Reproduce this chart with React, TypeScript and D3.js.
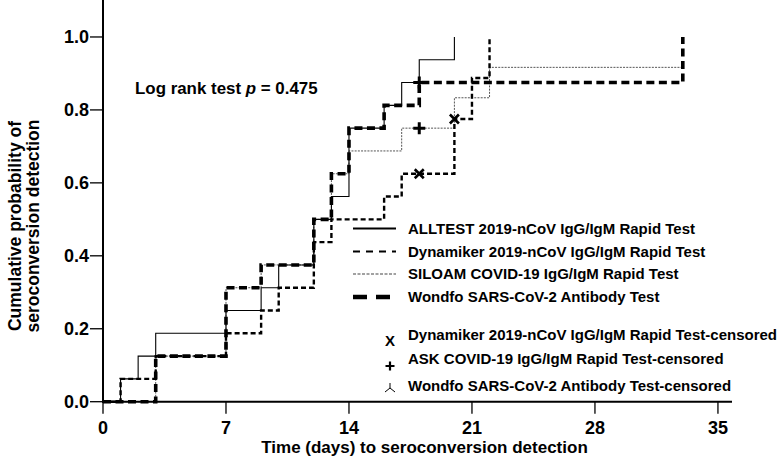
import React from "react";
import * as d3 from "d3";

type Pt = [number, number];

const allTest: Pt[] = [[0, 0], [1, 0.0625], [2, 0.125], [3, 0.1875], [7, 0.25], [9, 0.3125], [10, 0.375], [12, 0.5], [13, 0.5625], [14, 0.75], [16, 0.8125], [17, 0.875], [18, 0.9375], [20, 1.0]];
const dynamiker: Pt[] = [[0, 0], [1, 0.0625], [3, 0.125], [7, 0.1875], [9, 0.25], [10, 0.3125], [12, 0.4375], [13, 0.5], [16, 0.5625], [17, 0.625], [20, 0.775], [21, 0.8875], [22, 1.0]];
const siloam: Pt[] = [[0, 0], [3, 0.125], [7, 0.3125], [9, 0.375], [12, 0.5], [13, 0.625], [14, 0.6875], [17, 0.75], [20, 0.8333], [22, 0.9167], [33, 0.9167]];
const wondfo: Pt[] = [[0, 0], [3, 0.125], [7, 0.3125], [9, 0.375], [12, 0.5], [13, 0.625], [14, 0.75], [16, 0.8125], [18, 0.875], [33, 1.0]];

const censorX: Pt[] = [[18, 0.625], [20, 0.775]];
const censorPlus: Pt[] = [[18, 0.75], [18, 0.875]];

const xTicks = [0, 7, 14, 21, 28, 35];
const yTicks = [0, 0.2, 0.4, 0.6, 0.8, 1.0];

const legendLines = [
  "ALLTEST 2019-nCoV IgG/IgM Rapid Test",
  "Dynamiker 2019-nCoV IgG/IgM Rapid Test",
  "SILOAM COVID-19 IgG/IgM Rapid Test",
  "Wondfo SARS-CoV-2 Antibody Test",
];
const legendCensored = [
  "Dynamiker 2019-nCoV IgG/IgM Rapid Test-censored",
  "ASK COVID-19 IgG/IgM Rapid Test-censored",
  "Wondfo SARS-CoV-2 Antibody Test-censored",
];

const FONT = "'Liberation Sans', Arial, sans-serif";

export default function App() {
  const W = 777, H = 458;
  const x = d3.scaleLinear().domain([0, 35.8]).range([103, 732]);
  const y = d3.scaleLinear().domain([0, 1.1]).range([401.7, 0.5]);
  const line = d3.line<Pt>().x(d => x(d[0])).y(d => y(d[1])).curve(d3.curveStepAfter);

  const styles = [
    { data: allTest, w: 1.1, dash: undefined as string | undefined, color: "#000" },
    { data: dynamiker, w: 2.4, dash: "5,3", color: "#000" },
    { data: siloam, w: 1, dash: "2,1.2", color: "#555" },
    { data: wondfo, w: 3.6, dash: "8,4.5", color: "#000" },
  ];
  const legendStyles = [
    { w: 2, dash: undefined as string | undefined, color: "#000" },
    { w: 2.2, dash: "7,6", color: "#000" },
    { w: 1.2, dash: "3,1.5", color: "#444" },
    { w: 4.5, dash: "14,9", color: "#000" },
  ];
  const legendY = [228.5, 251.5, 274, 297];
  const censY = [335, 359, 386];

  return (
    <svg width={W} height={H} style={{ position: "absolute", left: 0, top: 0, background: "#fff" }} fontFamily={FONT}>
      <rect width={W} height={H} fill="#fff" />
      {/* curves */}
      {[styles[2], styles[0], styles[1], styles[3]].map((s, i) => (
        <path key={i} d={line(s.data) || ""} fill="none" stroke={s.color} strokeWidth={s.w} strokeDasharray={s.dash} />
      ))}
      {/* censor markers */}
      {censorX.map((p, i) => (
        <path key={"x" + i} d={`M${x(p[0]) - 4.5},${y(p[1]) - 4.5}L${x(p[0]) + 4.5},${y(p[1]) + 4.5}M${x(p[0]) - 4.5},${y(p[1]) + 4.5}L${x(p[0]) + 4.5},${y(p[1]) - 4.5}`} stroke="#000" strokeWidth={2.6} />
      ))}
      {censorPlus.map((p, i) => (
        <path key={"p" + i} d={`M${x(p[0]) - 6},${y(p[1])}L${x(p[0]) + 6},${y(p[1])}M${x(p[0])},${y(p[1]) - 6}L${x(p[0])},${y(p[1]) + 6}`} stroke="#000" strokeWidth={3} />
      ))}
      {/* axes */}
      <line x1={x(0)} x2={x(0)} y1={0} y2={y(0) + 1} stroke="#000" strokeWidth={2} />
      <line x1={x(0) - 1} x2={x.range()[1]} y1={y(0)} y2={y(0)} stroke="#000" strokeWidth={2} />
      {yTicks.map(t => (
        <g key={"y" + t}>
          <line x1={x(0) - 13} x2={x(0)} y1={y(t)} y2={y(t)} stroke="#000" strokeWidth={1.3} />
          <text x={x(0) - 14} y={y(t)} dy="0.35em" textAnchor="end" fontSize={18} fontWeight="bold">{t.toFixed(1)}</text>
        </g>
      ))}
      {xTicks.map(t => (
        <g key={"x" + t}>
          <line x1={x(t)} x2={x(t)} y1={y(0)} y2={y(0) + 12} stroke="#000" strokeWidth={1.3} />
          <text x={x(t)} y={434} textAnchor="middle" fontSize={18} fontWeight="bold">{t}</text>
        </g>
      ))}
      <text x={424.5} y={453} textAnchor="middle" fontSize={17} fontWeight="bold">Time (days) to seroconversion detection</text>
      <g transform="translate(15,226) rotate(-90)">
        <text x={0} y={0} dy="0.35em" textAnchor="middle" fontSize={17.5} fontWeight="bold">Cumulative probability of</text>
      </g>
      <g transform="translate(33,226) rotate(-90)">
        <text x={0} y={0} dy="0.35em" textAnchor="middle" fontSize={17.5} fontWeight="bold">seroconversion detection</text>
      </g>
      <text x={135} y={88} dy="0.35em" fontSize={16.9} fontWeight="bold">
        Log rank test <tspan fontStyle="italic">p</tspan> = 0.475
      </text>
      {/* legend */}
      {legendLines.map((t, i) => (
        <g key={"l" + i}>
          <line x1={353} x2={396} y1={legendY[i]} y2={legendY[i]} stroke={legendStyles[i].color} strokeWidth={legendStyles[i].w} strokeDasharray={legendStyles[i].dash} />
          <text x={408} y={legendY[i]} dy="0.35em" fontSize={15} fontWeight="bold">{t}</text>
        </g>
      ))}
      {legendCensored.map((t, i) => (
        <text key={"c" + i} x={408} y={censY[i]} dy="0.35em" fontSize={15} fontWeight="bold">{t}</text>
      ))}
      <text x={390} y={censY[0] + 6} dy="0.35em" textAnchor="middle" fontSize={15} fontWeight="bold">X</text>
      <path d={`M${390 - 4.5},${censY[1] + 7}L${390 + 4.5},${censY[1] + 7}M390,${censY[1] + 2.5}L390,${censY[1] + 11.5}`} stroke="#000" strokeWidth={2.2} />
      <path d={`M390,${censY[2] - 3}L390,${censY[2] + 2}L${390 - 5},${censY[2] + 6}M390,${censY[2] + 2}L${390 + 5},${censY[2] + 6}`} stroke="#000" strokeWidth={1} fill="none" />
    </svg>
  );
}
